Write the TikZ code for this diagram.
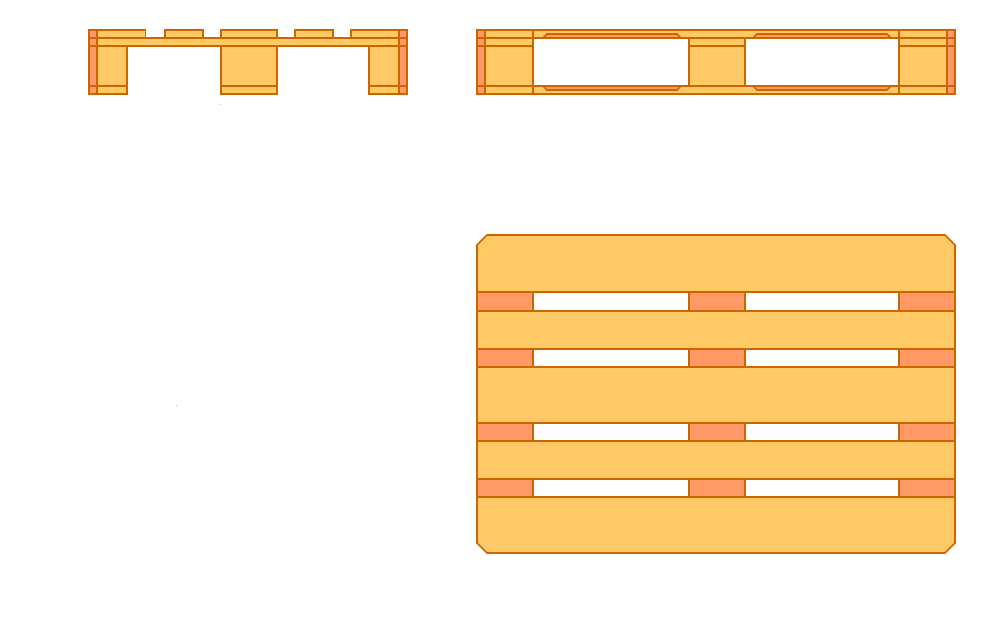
\documentclass[tikz,border=0pt]{standalone}
\definecolor{wood}{HTML}{FFC966}
\definecolor{endgrain}{HTML}{FF9966}
\definecolor{edge}{HTML}{CC6600}
\tikzset{
  woodpart/.style={fill=wood,draw=edge,line width=1.7pt,line join=miter},
  grainpart/.style={fill=endgrain,draw=edge,line width=1.7pt,line join=miter},
  holepart/.style={fill=white,draw=edge,line width=1.7pt},
  edgeline/.style={draw=edge,line width=1.7pt},
  speck/.style={fill=black!25}
}
\begin{document}
\begin{tikzpicture}[x=1pt,y=-1pt]
\useasboundingbox (0,0) rectangle (984,630);
\fill[white] (0,0) rectangle (984,630);
% --- end view (top left)
\foreach \a/\b in {89/145.4,165/203,221/277,295/333,351/407}
  \draw[woodpart] (\a,30) rectangle (\b,38);
\draw[woodpart] (89,38) rectangle (407,46);
\foreach \a/\b in {89/127,221/277,369/407}{
  \draw[woodpart] (\a,46) rectangle (\b,94);
  \draw[edgeline] (\a,86) -- (\b,86);
}
\draw[grainpart] (89,30) rectangle (97,94);
\draw[grainpart] (399,30) rectangle (407,94);
\foreach \x in {89,399}{
  \draw[edgeline] (\x,38) -- (\x+8,38);
  \draw[edgeline] (\x,46) -- (\x+8,46);
  \draw[edgeline] (\x,86) -- (\x+8,86);
}
% --- side view (top right)
\draw[woodpart] (477,30) rectangle (955,94);
\foreach \a/\b in {543/681,753/891}{
  \draw[grainpart] (\a,38) -- (\a+4,34) -- (\b-4,34) -- (\b,38) -- cycle;
  \draw[grainpart] (\a,86) -- (\a+4,90) -- (\b-4,90) -- (\b,86) -- cycle;
}
\draw[edgeline] (477,38) -- (955,38);
\draw[edgeline] (477,86) -- (955,86);
\foreach \a/\b in {477/533,689/745,899/955}
  \draw[edgeline] (\a,46) -- (\b,46);
\draw[holepart] (533,38) rectangle (689,86);
\draw[holepart] (745,38) rectangle (899,86);
\draw[edgeline] (533,30) -- (533,94);
\draw[edgeline] (899,30) -- (899,94);
\draw[grainpart] (477,30) rectangle (485,94);
\draw[grainpart] (947,30) rectangle (955,94);
\foreach \x in {477,947}{
  \draw[edgeline] (\x,38) -- (\x+8,38);
  \draw[edgeline] (\x,46) -- (\x+8,46);
  \draw[edgeline] (\x,86) -- (\x+8,86);
}
% --- plan view (lower right)
\draw[woodpart] (487,235) -- (945,235) -- (955,245) -- (955,543) -- (945,553)
  -- (487,553) -- (477,543) -- (477,245) -- cycle;
\foreach \t/\u in {292/311,349/367,423/441,479/497}{
  \draw[grainpart] (477,\t) rectangle (533,\u);
  \draw[holepart] (533,\t) rectangle (689,\u);
  \draw[grainpart] (689,\t) rectangle (745,\u);
  \draw[holepart] (745,\t) rectangle (899,\u);
  \draw[grainpart] (899,\t) rectangle (955,\u);
}
% --- stray specks
\fill[speck] (220.2,104) rectangle (221,104.8);
\fill[speck] (176.2,405) rectangle (177,405.8);
\end{tikzpicture}
\end{document}
